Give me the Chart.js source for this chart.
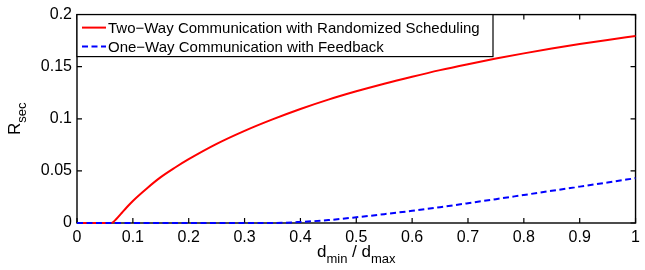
<!DOCTYPE html>
<html><head><meta charset="utf-8">
<script src="https://cdn.jsdelivr.net/npm/chart.js@4/dist/chart.umd.min.js"></script>
<style>html,body{margin:0;padding:0;background:#fff}#wrap{width:645px;height:270px}</style>
</head><body><div id="wrap"><canvas id="c" width="645" height="270"></canvas></div>
<script>
const seriesNames = ['Two\u2212Way Communication with Randomized Scheduling', 'One\u2212Way Communication with Feedback'];
const redX = [0, 0.02, 0.04, 0.06, 0.065, 0.07, 0.08, 0.09, 0.1, 0.125, 0.15, 0.175, 0.2, 0.25, 0.3, 0.35, 0.4, 0.45, 0.5, 0.55, 0.6, 0.65, 0.7, 0.75, 0.8, 0.85, 0.9, 0.95, 1.0];
const redY = [0, 0, 0, 0, 0.0010, 0.0036, 0.0096, 0.0156, 0.0212, 0.0332, 0.0440, 0.0530, 0.0612, 0.0759, 0.0884, 0.0994, 0.1094, 0.1184, 0.1264, 0.1337, 0.1404, 0.1467, 0.1524, 0.1578, 0.1628, 0.1674, 0.1717, 0.1757, 0.1795];
const blueX = [0, 0.1, 0.2, 0.3, 0.35, 0.4, 0.45, 0.5, 0.55, 0.6, 0.65, 0.7, 0.75, 0.8, 0.85, 0.9, 0.95, 1.0];
const blueY = [0, 0, 0, 0, 0, 0.001, 0.0028, 0.0055, 0.0085, 0.0117, 0.0152, 0.0190, 0.0229, 0.0269, 0.0309, 0.0349, 0.0389, 0.0430];
const xTickLabels = ['0', '0.1', '0.2', '0.3', '0.4', '0.5', '0.6', '0.7', '0.8', '0.9', '1'];
const yTickLabels = ['0', '0.05', '0.1', '0.15', '0.2'];
const seriesColors = ['#ff0000', '#0000ff'];

const FONT = '"Liberation Sans", Arial, Helvetica, sans-serif';

function toPts(xs, ys) { return xs.map((x, i) => ({x: x, y: ys[i]})); }
function fmt(list) { return v => { const s = String(Math.round(v * 1000) / 1000); return list.includes(s) ? s : ''; }; }

const framePlugin = {
  id: 'frame',
  beforeDatasetsDraw(chart) {
    const {ctx, chartArea: a, scales} = chart;
    ctx.save();
    ctx.strokeStyle = '#000';
    ctx.lineWidth = 1.2;
    const tl = 5;
    ctx.beginPath();
    xTickLabels.forEach(l => {
      const px = scales.x.getPixelForValue(Number(l));
      ctx.moveTo(px, a.bottom); ctx.lineTo(px, a.bottom - tl);
      ctx.moveTo(px, a.top); ctx.lineTo(px, a.top + tl);
    });
    yTickLabels.forEach(l => {
      const py = scales.y.getPixelForValue(Number(l));
      ctx.moveTo(a.left, py); ctx.lineTo(a.left + tl, py);
      ctx.moveTo(a.right, py); ctx.lineTo(a.right - tl, py);
    });
    ctx.stroke();
    ctx.lineWidth = 1.4;
    ctx.strokeRect(a.left, a.top, a.right - a.left, a.bottom - a.top);
    ctx.restore();
  },
  afterDraw(chart) {
    const {ctx, chartArea: a} = chart;
    ctx.save();
    // legend
    const lx = a.left, ly = a.top, lw = 416, lh = 42;
    ctx.fillStyle = '#fff';
    ctx.fillRect(lx, ly, lw, lh);
    ctx.strokeStyle = '#000';
    ctx.lineWidth = 1.2;
    ctx.strokeRect(lx, ly, lw, lh);
    const rows = [ly + 13, ly + 32];
    chart.data.datasets.forEach((ds, i) => {
      ctx.beginPath();
      ctx.strokeStyle = ds.borderColor;
      ctx.lineWidth = 2;
      ctx.setLineDash(ds.borderDash || []);
      ctx.moveTo(lx + 5, rows[i]); ctx.lineTo(lx + 29, rows[i]);
      ctx.stroke();
      ctx.setLineDash([]);
      ctx.fillStyle = '#000';
      ctx.font = '15px ' + FONT;
      ctx.textBaseline = 'middle';
      ctx.textAlign = 'left';
      ctx.fillText(ds.label, lx + 31, rows[i] + 1);
    });
    // x title: d_min / d_max
    ctx.fillStyle = '#000';
    ctx.textBaseline = 'alphabetic';
    ctx.textAlign = 'left';
    const parts = [['d', 17, 0], ['min', 13, 6], [' / d', 17, 0], ['max', 13, 6]];
    let total = 0;
    parts.forEach(p => { ctx.font = p[1] + 'px ' + FONT; total += ctx.measureText(p[0]).width; });
    let x = (a.left + a.right) / 2 - total / 2;
    const base = 257;
    parts.forEach(p => { ctx.font = p[1] + 'px ' + FONT; ctx.fillText(p[0], x, base + p[2]); x += ctx.measureText(p[0]).width; });
    // y title: R_sec
    ctx.translate(20, (a.top + a.bottom) / 2);
    ctx.rotate(-Math.PI / 2);
    const yp = [['R', 17, 0], ['sec', 13, 6]];
    let tw = 0;
    yp.forEach(p => { ctx.font = p[1] + 'px ' + FONT; tw += ctx.measureText(p[0]).width; });
    let yx = -tw / 2;
    yp.forEach(p => { ctx.font = p[1] + 'px ' + FONT; ctx.fillText(p[0], yx, p[2]); yx += ctx.measureText(p[0]).width; });
    ctx.restore();
  }
};

new Chart(document.getElementById('c'), {
  type: 'line',
  data: {
    datasets: [
      { label: seriesNames[0], data: toPts(redX, redY), borderColor: seriesColors[0], borderWidth: 2, pointRadius: 0, cubicInterpolationMode: 'monotone', fill: false, order: 1, clip: 4 },
      { label: seriesNames[1], data: toPts(blueX, blueY), borderColor: seriesColors[1], borderWidth: 2, borderDash: [6, 3.5], pointRadius: 0, cubicInterpolationMode: 'monotone', fill: false, order: 0, clip: 4 }
    ]
  },
  options: {
    responsive: false,
    animation: false,
    devicePixelRatio: 1,
    layout: { padding: { top: 12, right: 4, left: 0, bottom: 0 } },
    plugins: { legend: { display: false }, tooltip: { enabled: false } },
    scales: {
      x: {
        type: 'linear', min: 0, max: 1,
        grid: { display: false, drawTicks: false },
        border: { display: false },
        ticks: { stepSize: 0.1, autoSkip: false, maxRotation: 0, padding: 5, color: '#000', font: { size: 16, family: FONT }, callback: fmt(xTickLabels) },
        afterFit(s) { s.height = 47; }
      },
      y: {
        type: 'linear', min: 0, max: 0.2,
        grid: { display: false, drawTicks: false },
        border: { display: false },
        ticks: { stepSize: 0.05, autoSkip: false, padding: 5, color: '#000', font: { size: 16, family: FONT }, callback: fmt(yTickLabels) },
        afterFit(s) { s.width = 77; }
      }
    }
  },
  plugins: [framePlugin]
});
</script></body></html>
